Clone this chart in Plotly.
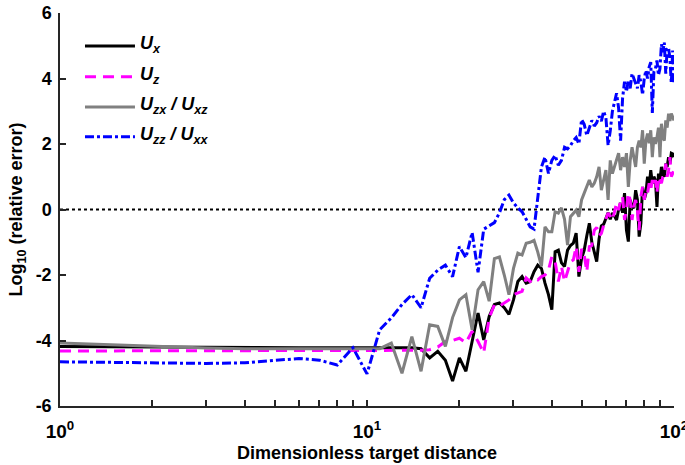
import plotly.graph_objects as go

distance = list(range(1, 101))

u_x = [-4.18, -4.2, -4.22, -4.22, -4.22, -4.22, -4.22, -4.22, -4.22, -4.22,
       -4.22, -4.23, -4.22, -4.22, -4.25, -4.53, -4.33, -4.6, -5.24, -4.53,
       -4.94, -3.98, -3.16, -3.98, -3.27, -2.9, -2.85, -3.0, -3.2, -2.76,
       -2.2, -2.05, -2.25, -2.2, -1.9, -1.7, -1.8, -2.25, -2.6, -3.06,
       -1.29, -1.24, -1.63, -1.74, -1.24, -1.1, -1.03, -0.72, -2.05, -1.5,
       -1.24, -0.8, -0.42, -1.0, -1.3, -1.59, -0.9, -0.5, -0.45, -0.26,
       -0.1, -0.3, -0.11, -0.2, -0.32, 0.0, 0.2, -0.1, 0.5, -0.63,
       -0.98, 0.29, 0.1, 0.04, 0.59, 0.3, -0.83, -0.42, 0.69, 0.3,
       0.5, 1.0, 0.7, 1.2, 0.8, 1.0, 0.9, 0.08, 1.1, 0.9,
       1.3, 1.1, 1.0, 1.4, 1.3, 1.6, 1.4, 1.72, 1.7, 1.6]

u_z = [-4.32, -4.31, -4.3, -4.3, -4.3, -4.3, -4.3, -4.3, -4.3, -4.3,
       -4.3, -4.3, -4.3, -4.3, -4.3, -4.28, -4.2, -4.03, -4.0, -3.93,
       -4.07, -3.72, -4.03, -4.38, -3.31, -2.91, -2.95, -2.85, -2.76, -2.6,
       -2.55, -2.5, -2.09, -2.2, -2.1, -2.15, -2.05, -2.0, -1.85, -1.44,
       -1.59, -2.2, -1.74, -2.2, -1.9, -1.6, -1.54, -1.13, -1.9, -1.2,
       -1.39, -1.9, -1.13, -1.1, -0.63, -0.55, -0.8, -0.73, -0.48, -0.3,
       -0.11, -0.2, -0.32, -0.07, 0.2, -0.02, 0.29, 0.39, -0.32, 0.0,
       0.5, 0.29, -0.32, 0.1, 0.29, -0.02, -0.63, 0.4, 0.69, 0.3,
       0.59, 0.5, 0.8, 0.6, 0.9, 0.7, 0.9, 0.5, 1.0, 0.9,
       0.8, 1.0, 1.1, 1.4, 1.0, 1.2, 1.6, 1.0, 1.1, 1.2]

u_zx = [-4.08, -4.18, -4.23, -4.25, -4.25, -4.25, -4.25, -4.25, -4.25, -4.25,
        -4.25, -4.08, -5.0, -3.88, -4.94, -3.52, -3.57, -4.18, -3.3, -2.76,
        -2.6, -3.67, -2.45, -2.2, -2.8, -1.5, -1.45, -2.0, -2.6, -1.8,
        -1.33, -1.39, -1.03, -1.0, -0.94, -1.3, -1.74, -0.53, -0.68, -0.68,
        -0.07, -0.11, 0.05, -0.3, -1.09, -0.22, -0.1, -0.02, -0.22, 0.29,
        0.5, 0.69, 0.9, 0.69, 0.8, 1.0, 1.3, 0.59, 0.9, 1.2,
        0.29, 1.5, 1.1, 1.3, 1.5, 1.72, 1.2, 1.6, 1.3, 1.72,
        0.69, 1.5, 1.9, 1.6, 1.3, 1.9, 2.1, 1.9, 2.42, 1.4,
        2.1, 2.32, 2.02, 2.42, 1.6, 2.2, 2.0, 2.2, 2.5, 1.6,
        2.62, 2.2, 2.1, 2.72, 2.5, 2.93, 2.7, 2.93, 2.8, 2.72]

u_zz = [-4.65, -4.68, -4.7, -4.68, -4.62, -4.55, -4.6, -4.75, -4.22, -5.02,
        -3.67, -3.31, -2.9, -2.6, -3.0, -2.1, -1.85, -1.7, -2.05, -1.13,
        -1.47, -0.7, -1.92, -0.6, -0.5, -0.4, -0.1, 0.3, 0.44, 0.2,
        0.05, -0.07, -0.3, -0.53, -0.6, 0.4, 1.3, 1.6, 1.1, 1.5,
        1.65, 1.35, 1.5, 1.9, 1.85, 1.95, 2.1, 2.2, 2.0, 2.75,
        2.6, 2.26, 2.5, 2.72, 2.55, 2.65, 2.85, 2.7, 3.0, 2.8,
        1.96, 2.4, 3.0, 3.3, 3.55, 3.1, 2.1, 3.4, 3.9, 3.6,
        3.95, 3.7, 4.15, 4.0, 3.85, 3.7, 4.1, 3.9, 3.5, 4.0,
        4.25, 4.0, 4.35, 4.5, 2.95, 4.2, 4.3, 4.55, 4.1, 4.3,
        5.05, 4.8, 5.1, 4.15, 4.9, 4.95, 4.6, 3.85, 4.85, 3.85]

series_names = ["<b><i>U<sub>x</sub></i></b>", "<b><i>U<sub>z</sub></i></b>",
                "<b><i>U<sub>zx</sub> / U<sub>xz</sub></i></b>",
                "<b><i>U<sub>zz</sub> / U<sub>xx</sub></i></b>"]

x_major_vals = [1, 10, 100]
x_major_text = ["<b>10<sup>0</sup></b>", "<b>10<sup>1</sup></b>", "<b>10<sup>2</sup></b>"]
x_minor_vals = [2, 3, 4, 5, 6, 7, 8, 9, 20, 30, 40, 50, 60, 70, 80, 90]
y_tick_vals = [-6, -4, -2, 0, 2, 4, 6]
y_tick_text = ["<b>-6</b>", "<b>-4</b>", "<b>-2</b>", "<b>0</b>", "<b>2</b>", "<b>4</b>", "<b>6</b>"]

FONT = "Liberation Sans, Arial, sans-serif"
AX = "#262626"

styles = [
    dict(color="#000000", width=3, dash="solid"),
    dict(color="#FF00FF", width=3, dash="11px,7px"),
    dict(color="#808080", width=3, dash="solid"),
    dict(color="#0000FF", width=3, dash="9px,3px,3px,3px"),
]

fig = go.Figure()
for name, ys, st in zip(series_names, [u_x, u_z, u_zx, u_zz], styles):
    fig.add_trace(go.Scatter(x=distance, y=ys, mode="lines", name=name, line=st,
                             showlegend=False))

# zero reference line
fig.add_shape(type="line", xref="paper", yref="y", x0=0, x1=1, y0=0, y1=0,
              line=dict(color="black", width=2, dash="dot"), layer="below")

# legend (keys drawn in paper coordinates)
leg_y = [0.916, 0.838, 0.761, 0.685]
for name, st, ly in zip(series_names, styles, leg_y):
    fig.add_shape(type="line", xref="paper", yref="paper", x0=0.0407, x1=0.1221,
                  y0=ly, y1=ly, line=st)
    fig.add_annotation(xref="paper", yref="paper", x=0.1270, y=ly + 0.004,
                       xanchor="left", yanchor="middle", text=name, showarrow=False,
                       font=dict(family=FONT, size=18, color="black"))

fig.update_layout(
    width=685, height=465,
    margin=dict(l=60, r=11, t=13, b=59),
    plot_bgcolor="white", paper_bgcolor="white",
    font=dict(family=FONT, size=18, color="black"),
    showlegend=False,
    xaxis=dict(type="log", range=[0, 2], tickvals=x_major_vals, ticktext=x_major_text,
               ticks="inside", ticklen=6, tickwidth=1.5, tickcolor=AX,
               minor=dict(tickvals=x_minor_vals, ticks="inside", ticklen=6,
                          tickwidth=1.5, tickcolor=AX),
               showline=True, linecolor=AX, linewidth=1.5, showgrid=False,
               zeroline=False, tickfont=dict(size=19), ticklabelstandoff=7,
               ticklabeloverflow="allow", automargin=False,
               title=dict(text="<b>Dimensionless target distance</b>",
                          font=dict(size=18), standoff=6)),
    yaxis=dict(range=[-6, 6], tickvals=y_tick_vals, ticktext=y_tick_text,
               ticks="inside", ticklen=6, tickwidth=1.5, tickcolor=AX,
               showline=True, linecolor=AX, linewidth=1.5, showgrid=False,
               zeroline=False, tickfont=dict(size=18), ticklabelstandoff=3,
               automargin=False,
               title=dict(text="<b>Log<sub>10</sub> (relative error)</b>",
                          font=dict(size=18), standoff=8)),
)

fig.write_html("out.html")
